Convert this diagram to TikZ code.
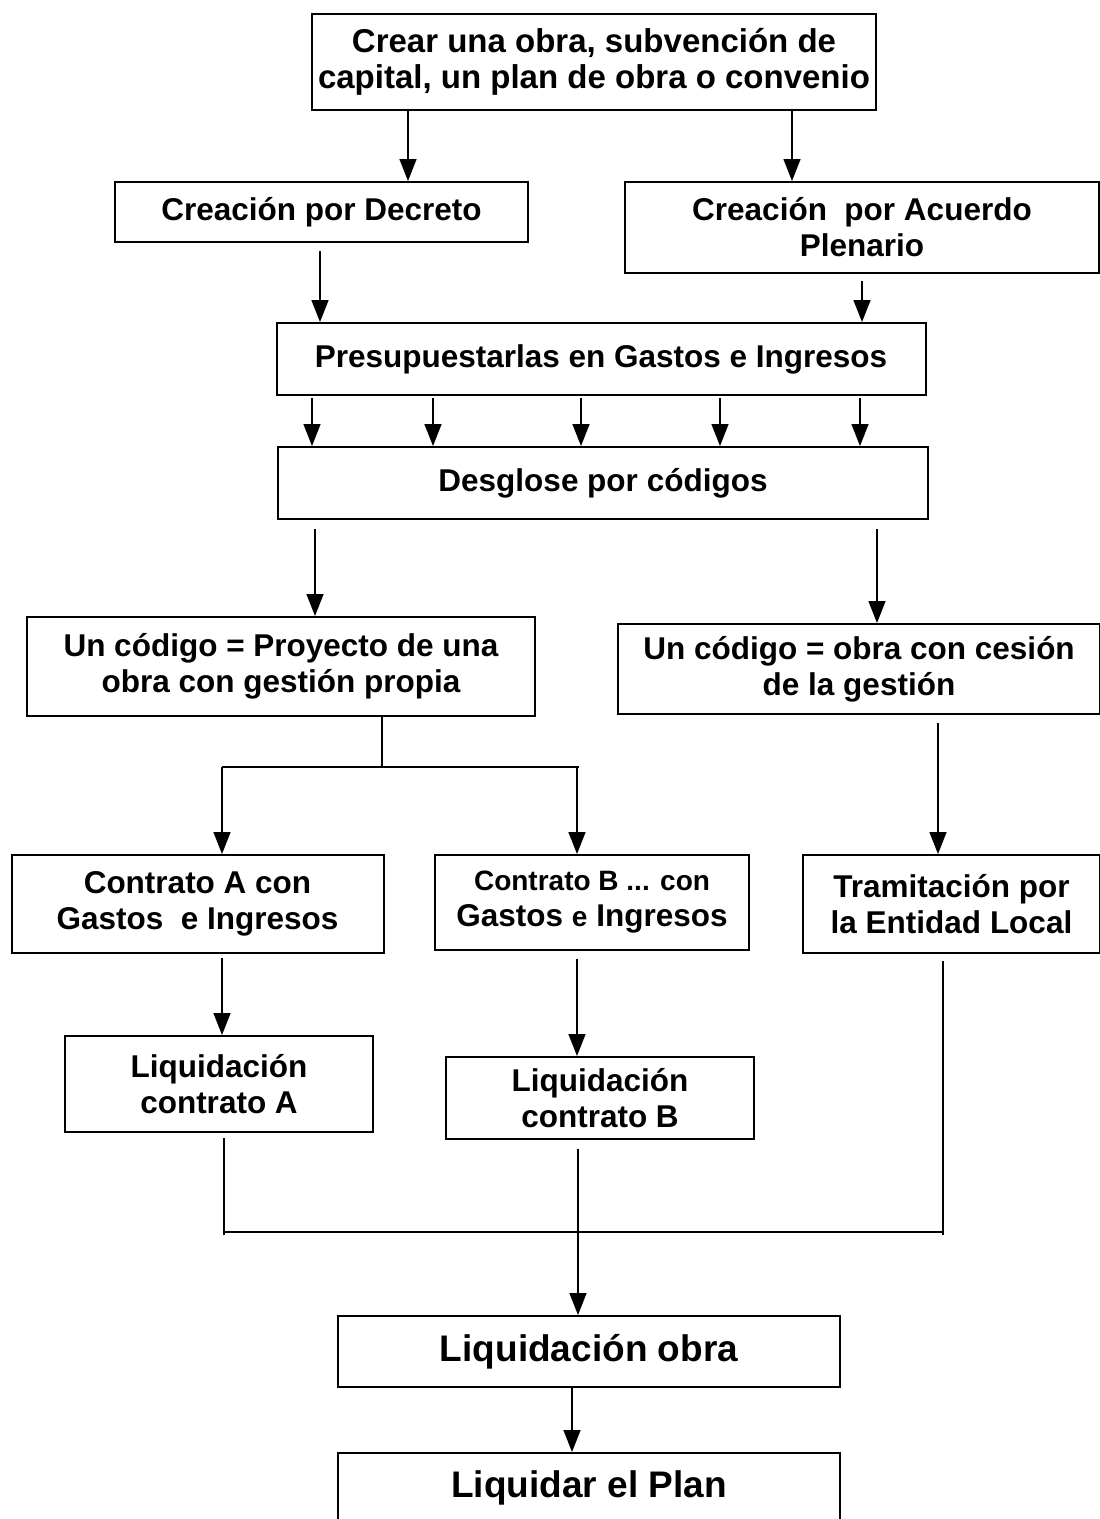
\documentclass[tikz,border=0pt]{standalone}
\usepackage{fontspec}
\setmainfont{Liberation Sans}
\usetikzlibrary{arrows.meta,calc}
\begin{document}
\begin{tikzpicture}[x=1pt,y=-1pt,
 box/.style={draw,line width=2pt,align=center,inner sep=0pt,font=\fontsize{31.5}{36}\selectfont\bfseries},
 bigbox/.style={box,font=\fontsize{37}{42}\selectfont\bfseries},
 arr/.style={line width=1.5pt,-{Triangle[length=22pt,width=17pt]}},
 ln/.style={line width=1.5pt}]
\useasboundingbox (0,0) rectangle (1100,1519);
\clip (0,0) rectangle (1100,1519);
\node[box,font=\fontsize{33}{36}\selectfont\bfseries,minimum width=564pt,minimum height=96pt] (b1) at (594,62) {Crear una obra, subvención de\\capital, un plan de obra o convenio};
\node[box,minimum width=413pt,minimum height=60pt] (dec) at (321.5,212) {Creación por Decreto};
\node[box,minimum width=474pt,minimum height=91pt] (acu) at (862,227.5) {Creación\ \ por Acuerdo\\Plenario};
\node[box,minimum width=649pt,minimum height=72pt] (pre) at (601,359) {Presupuestarlas en Gastos e Ingresos};
\node[box,minimum width=650pt,minimum height=72pt] (des) at (603,483) {Desglose por códigos};
\node[box,minimum width=508pt,minimum height=99pt] (pro) at (281,666.5) {Un código = Proyecto de una\\obra con gestión propia};
\node[box,minimum width=482pt,minimum height=90pt] (ces) at (859,669) {Un código = obra con cesión\\de la gestión};
\node[box,minimum width=372pt,minimum height=98pt] (ca) at (197.5,904) {Contrato A con\\Gastos\ \ e Ingresos};
\node[box,minimum width=314pt,minimum height=95pt] (cb) at (592,902.5) {{\fontsize{28}{36}\selectfont Contrato B ... con}\\Gastos {\fontsize{28}{36}\selectfont e} Ingresos};
\node[box,minimum width=297pt,minimum height=98pt] (tra) at (951.5,904) {Tramitación por\\la Entidad Local};
\node[box,minimum width=308pt,minimum height=96pt] (la) at (219,1084) {Liquidación\\contrato A};
\node[box,minimum width=308pt,minimum height=82pt] (lb) at (600,1098) {Liquidación\\contrato B};
\node[bigbox,minimum width=502pt,minimum height=71pt] (lo) at (589,1351.5) {Liquidación obra};
\node[draw,line width=2pt,minimum width=502pt,minimum height=86pt,inner sep=0pt] (lp) at (589,1496) {};
\node[font=\fontsize{37}{42}\selectfont\bfseries,inner sep=0pt] (lpt) at (589,1488) {Liquidar el Plan};
% connectors
\draw[arr] (b1.south -| 408,0) -- (dec.north -| 408,0);
\draw[arr] (b1.south -| 792,0) -- (acu.north -| 792,0);
\draw[arr] ($(dec.south -| 320,0)+(0,8)$) -- (pre.north -| 320,0);
\draw[arr] ($(acu.south -| 862,0)+(0,7)$) -- (pre.north -| 862,0);
\foreach \x in {312,433,581,720,860} \draw[arr] ($(pre.south -| \x,0)+(0,2)$) -- (des.north -| \x,0);
\draw[arr] ($(des.south -| 315,0)+(0,9)$) -- (pro.north -| 315,0);
\draw[arr] ($(des.south -| 877,0)+(0,9)$) -- (ces.north -| 877,0);
\coordinate (spL) at (222,767);
\coordinate (spR) at (577,767);
\coordinate (spM) at (382,767);
\draw[ln] (pro.south -| spM) -- (spM);
\draw[ln] (spL) -- ($(spR)+(2,0)$);
\draw[arr] (spL) -- (ca.north -| spL);
\draw[arr] (spR) -- (cb.north -| spR);
\draw[arr] ($(ces.south -| 938,0)+(0,8)$) -- (tra.north -| 938,0);
\draw[arr] ($(ca.south -| 222,0)+(0,4)$) -- (la.north -| 222,0);
\draw[arr] ($(cb.south -| 577,0)+(0,8)$) -- (lb.north -| 577,0);
\coordinate (jL) at (224,1232);
\coordinate (jR) at (943,1232);
\coordinate (jM) at (578,1232);
\draw[ln] ($(la.south -| jL)+(0,5)$) -- ($(jL)+(0,3)$);
\draw[ln] ($(tra.south -| jR)+(0,7)$) -- ($(jR)+(0,3)$);
\draw[ln] (jL) -- (jR);
\draw[arr] ($(lb.south -| jM)+(0,9)$) -- (lo.north -| jM);
\draw[arr] (lo.south -| 572,0) -- (lp.north -| 572,0);
\end{tikzpicture}
\end{document}
